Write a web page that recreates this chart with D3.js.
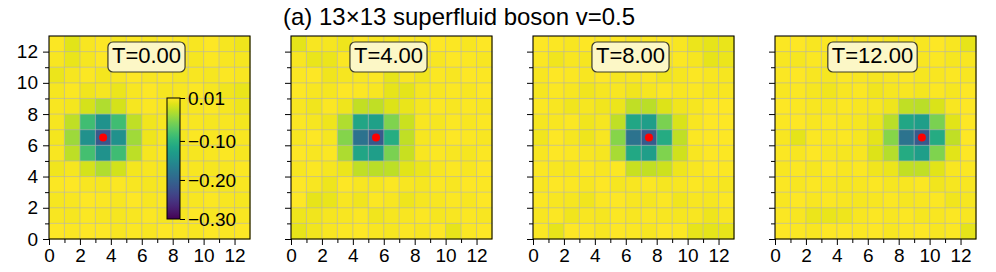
<!DOCTYPE html>
<html>
<head>
<meta charset="utf-8">
<script src="https://cdn.jsdelivr.net/npm/d3@7"></script>
<style>
  body { margin: 0; background: #fff; }
  svg text { font-family: "Liberation Sans", Arial, Helvetica, sans-serif; fill: #000; }
</style>
</head>
<body>
<div id="chart"></div>
<script>
// panel labels and the red source marker of each panel
var times = ["0.00", "4.00", "8.00", "12.00"];
var sourceX = [3.5, 5.5, 7.5, 9.5];
var sourceY = 6.5;
var cbTicks = [0.01, -0.10, -0.20, -0.30];
var colorDomain = [-0.30, 0.01];

// 13x13 grids, rows listed from y=12 (top) down to y=0, columns x=0..12
var gridT0 = [
  [0.008,-0.004,0.007,0.009,0.006,0.008,0.007,0.009,0.008,0.007,0.009,0.006,0.002],
  [0.007,0.000,0.006,0.010,0.007,0.006,0.008,0.007,0.009,0.006,0.008,0.007,0.006],
  [0.001,0.006,0.008,0.005,0.007,0.010,0.007,0.008,0.006,0.007,0.006,0.008,0.007],
  [0.006,0.008,0.003,0.006,0.001,0.007,0.009,0.006,0.007,0.008,0.006,0.003,0.000],
  [0.007,0.005,-0.010,-0.027,-0.010,0.006,0.008,0.007,0.006,0.007,0.008,0.006,0.002],
  [0.006,-0.020,-0.085,-0.143,-0.085,-0.020,0.003,0.006,0.008,0.007,0.006,0.007,0.005],
  [0.005,-0.036,-0.145,-0.215,-0.145,-0.034,0.002,0.007,0.006,0.008,0.007,0.006,0.007],
  [0.007,-0.021,-0.083,-0.142,-0.086,-0.021,0.006,0.008,0.007,0.006,0.007,0.008,0.006],
  [0.003,0.006,-0.010,-0.027,-0.011,0.004,0.007,0.006,0.008,0.007,0.006,0.007,0.008],
  [0.008,0.010,0.007,0.006,0.008,0.007,0.006,0.007,0.008,0.006,0.007,0.006,0.007],
  [0.006,0.007,0.009,0.008,0.007,0.009,0.007,0.008,0.006,0.007,0.008,0.007,0.006],
  [0.007,0.006,0.008,0.007,0.006,0.007,0.008,0.006,0.007,0.009,0.007,0.008,0.007],
  [0.009,0.008,0.010,0.010,0.007,0.008,0.007,0.009,0.008,0.007,0.010,0.008,0.009]
];
var gridT4 = [
  [-0.003,0.007,0.006,0.002,0.010,0.007,0.006,0.008,0.007,0.009,0.008,0.007,0.010],
  [0.007,0.000,0.001,0.008,0.003,0.009,0.007,0.006,0.008,0.007,0.009,0.008,0.007],
  [0.008,0.010,0.003,0.006,0.007,0.008,-0.001,0.007,0.003,0.008,0.007,0.009,0.008],
  [0.009,0.007,0.006,0.010,0.008,0.007,-0.001,-0.003,0.006,0.007,0.008,0.007,0.009],
  [0.007,0.003,0.008,0.002,-0.018,-0.020,-0.006,0.000,0.006,0.008,0.007,0.008,0.007],
  [0.008,0.006,0.002,-0.027,-0.118,-0.125,-0.050,-0.015,0.007,0.006,0.008,0.007,0.008],
  [0.007,0.010,0.006,-0.048,-0.183,-0.213,-0.108,-0.020,0.006,0.007,0.009,0.008,0.007],
  [0.009,0.007,0.008,-0.028,-0.118,-0.128,-0.052,-0.016,0.007,0.008,0.007,0.006,0.008],
  [0.007,0.008,0.006,0.001,-0.020,-0.022,-0.021,-0.004,0.001,0.007,0.008,0.007,0.009],
  [0.010,0.007,0.002,0.009,0.007,0.006,0.008,0.007,0.006,0.008,0.007,0.009,0.008],
  [0.010,-0.001,0.000,0.007,0.003,0.008,0.007,0.002,0.006,0.007,0.008,0.007,0.009],
  [0.002,0.003,0.006,0.007,0.008,0.003,0.006,0.007,0.008,0.006,0.007,0.008,0.007],
  [-0.002,0.003,0.007,0.008,0.009,0.007,0.006,0.008,0.007,0.009,-0.001,0.008,0.009]
];
var gridT8 = [
  [0.009,0.008,0.007,0.009,0.008,0.010,0.007,0.008,0.009,0.007,0.001,-0.001,0.000],
  [0.008,0.003,0.007,0.006,0.002,0.007,0.008,0.007,0.006,0.008,0.006,-0.001,0.001],
  [0.007,0.009,0.008,0.007,0.009,0.006,0.007,0.008,0.003,0.006,0.008,0.007,0.006],
  [0.006,0.008,0.007,0.003,0.006,0.007,0.003,0.006,0.008,0.007,0.008,0.006,0.007],
  [0.008,0.007,0.003,0.006,0.003,0.001,-0.020,-0.022,-0.006,0.003,0.006,0.009,0.010],
  [0.006,0.007,0.008,0.003,0.006,-0.020,-0.116,-0.128,-0.052,-0.008,0.007,0.010,0.009],
  [0.003,0.009,0.006,0.002,0.007,-0.046,-0.182,-0.212,-0.110,-0.020,0.008,0.010,0.009],
  [0.007,0.010,0.008,0.007,0.006,-0.030,-0.114,-0.128,-0.050,-0.012,0.007,0.010,0.008],
  [0.008,0.007,0.006,0.008,0.007,0.008,-0.016,-0.018,-0.014,0.002,0.007,0.009,0.008],
  [0.007,0.009,0.008,0.007,0.009,0.006,0.007,0.008,0.006,0.007,0.008,0.007,0.006],
  [0.008,0.007,0.006,0.003,0.008,0.009,0.007,0.006,0.008,0.003,0.007,0.006,0.008],
  [0.007,0.008,0.003,0.007,0.006,0.008,0.007,0.008,0.007,0.006,0.007,0.002,0.007],
  [0.008,-0.002,0.009,0.008,0.007,0.009,0.008,0.007,0.009,0.008,-0.001,-0.003,-0.002]
];
var gridT12 = [
  [0.008,0.010,0.007,0.008,0.009,0.007,0.008,0.006,0.008,0.007,0.009,0.007,-0.001],
  [0.007,0.006,0.008,0.007,0.006,0.008,0.007,0.008,0.006,0.007,0.008,0.006,0.007],
  [0.008,0.009,0.007,0.006,0.008,0.007,0.006,0.007,0.008,0.006,0.007,0.008,0.007],
  [0.007,0.008,0.006,0.003,0.007,0.008,0.003,0.006,0.007,0.004,0.008,0.006,0.009],
  [0.009,0.008,0.007,0.006,0.008,0.007,0.006,0.002,-0.020,-0.022,-0.008,0.007,0.010],
  [0.008,0.009,0.007,0.008,0.007,0.006,0.001,-0.022,-0.116,-0.128,-0.052,-0.004,0.010],
  [0.007,-0.003,0.008,0.007,0.008,0.006,-0.003,-0.046,-0.182,-0.212,-0.110,-0.020,0.010],
  [0.008,0.007,0.009,0.007,0.006,0.007,-0.006,-0.024,-0.110,-0.128,-0.050,-0.004,0.009],
  [0.007,0.008,0.006,0.009,0.007,0.008,0.003,0.001,-0.018,-0.020,-0.004,0.007,0.008],
  [0.008,0.007,0.008,0.007,0.006,0.007,0.008,0.006,0.007,0.008,0.003,0.006,0.007],
  [0.007,0.009,0.007,0.008,0.007,0.006,0.007,0.008,0.006,0.007,0.008,0.003,0.006],
  [0.008,0.007,0.001,0.000,0.002,0.007,0.008,0.007,0.008,0.006,0.007,0.008,0.007],
  [0.009,0.008,0.007,0.009,0.010,0.008,0.009,0.007,0.008,0.009,0.007,0.008,-0.003]
];
var grids = [gridT0, gridT4, gridT8, gridT12];

var svgWidth = 996, svgHeight = 272;
var panelLeft = [49, 291, 533, 775];
var panelTop = 36, pw = 201, ph = 203;

var svg = d3.select("#chart").append("svg")
  .attr("width", svgWidth)
  .attr("height", svgHeight);

var color = d3.scaleSequential(d3.interpolateViridis).domain(colorDomain);

// title
svg.append("text")
  .attr("x", 459)
  .attr("y", 25)
  .attr("text-anchor", "middle")
  .attr("font-size", 24)
  .attr("textLength", 352)
  .attr("lengthAdjust", "spacingAndGlyphs")
  .text("(a) 13×13 superfluid boson v=0.5");

var x = d3.scaleLinear().domain([0, 13]).range([0, pw]);
var y = d3.scaleLinear().domain([0, 13]).range([ph, 0]);
var tickVals = d3.range(0, 13);

panelLeft.forEach(function(left, p) {
  var g = svg.append("g").attr("transform", `translate(${left}, ${panelTop})`);

  var cells = [];
  grids[p].forEach(function(row, i) {
    row.forEach(function(v, j) {
      cells.push({col: j, row: 12 - i, v: v});
    });
  });

  g.selectAll("rect.cell")
    .data(cells)
    .enter()
    .append("rect")
    .attr("class", "cell")
    .attr("x", d => x(d.col))
    .attr("y", d => y(d.row + 1))
    .attr("width", x(1) - x(0) + 0.4)
    .attr("height", y(0) - y(1) + 0.4)
    .attr("fill", d => color(d.v));

  // light grid over the cells
  var inner = d3.range(1, 13);
  g.selectAll("line.vg").data(inner).enter().append("line")
    .attr("x1", d => x(d)).attr("x2", d => x(d))
    .attr("y1", 0).attr("y2", ph)
    .attr("stroke", "#b0b0b0").attr("stroke-opacity", 0.6).attr("stroke-width", 1);
  g.selectAll("line.hg").data(inner).enter().append("line")
    .attr("y1", d => y(d)).attr("y2", d => y(d))
    .attr("x1", 0).attr("x2", pw)
    .attr("stroke", "#b0b0b0").attr("stroke-opacity", 0.6).attr("stroke-width", 1);

  // axes
  var xAxis = g.append("g")
    .attr("transform", `translate(0, ${ph})`)
    .call(d3.axisBottom(x).tickValues(tickVals).tickSize(6).tickPadding(4)
      .tickFormat(d => d % 2 === 0 ? d : ""));
  var yAxis = g.append("g")
    .call(d3.axisLeft(y).tickValues(tickVals).tickSize(6).tickPadding(5)
      .tickFormat(d => (p === 0 && d % 2 === 0) ? d : ""));
  [xAxis, yAxis].forEach(function(ax) {
    ax.select(".domain").remove();
    ax.selectAll("text").attr("font-size", 19).attr("fill", "#000");
    ax.selectAll("line").attr("stroke", "#000");
  });
  xAxis.selectAll(".tick line").attr("y2", d => d % 2 === 0 ? 6 : 4);
  yAxis.selectAll(".tick line").attr("x2", d => d % 2 === 0 ? -6 : -4);

  // frame
  g.append("rect")
    .attr("width", pw).attr("height", ph)
    .attr("fill", "none").attr("stroke", "#000").attr("stroke-width", 1.1);

  // source marker
  g.append("circle")
    .attr("cx", x(sourceX[p]))
    .attr("cy", y(sourceY))
    .attr("r", 4)
    .attr("fill", "red");

  // time label box
  var lab = g.append("g");
  var txt = lab.append("text")
    .attr("x", pw / 2 - 3)
    .attr("y", 27)
    .attr("text-anchor", "middle")
    .attr("font-size", 22)
    .text("T=" + times[p]);
  var bb = txt.node().getBBox();
  lab.insert("rect", "text")
    .attr("x", bb.x - 4)
    .attr("y", 6)
    .attr("width", bb.width + 8)
    .attr("height", 30)
    .attr("rx", 5)
    .attr("fill", "#fcf7c6")
    .attr("stroke", "#3a3a2a")
    .attr("stroke-width", 1.2);

  // colorbar inside the first panel
  if (p === 0) {
    var cbX = 118, cbW = 13;
    var cbScale = d3.scaleLinear().domain(colorDomain).range([183, 62]);
    var defs = svg.append("defs");
    var grad = defs.append("linearGradient")
      .attr("id", "viridisGrad")
      .attr("x1", "0%").attr("y1", "100%").attr("x2", "0%").attr("y2", "0%");
    d3.range(0, 1.001, 0.05).forEach(function(t) {
      grad.append("stop")
        .attr("offset", (t * 100) + "%")
        .attr("stop-color", d3.interpolateViridis(t));
    });
    g.append("rect")
      .attr("x", cbX)
      .attr("y", cbScale(colorDomain[1]))
      .attr("width", cbW)
      .attr("height", cbScale(colorDomain[0]) - cbScale(colorDomain[1]))
      .attr("fill", "url(#viridisGrad)")
      .attr("stroke", "#000")
      .attr("stroke-width", 1);
    var cbAxis = g.append("g")
      .attr("transform", `translate(${cbX + cbW}, 0)`)
      .call(d3.axisRight(cbScale).tickValues(cbTicks).tickSize(5).tickPadding(3)
        .tickFormat(d3.format(".2f")));
    cbAxis.select(".domain").remove();
    cbAxis.selectAll("text").attr("font-size", 19).attr("fill", "#000");
    cbAxis.selectAll("line").attr("stroke", "#000");
  }
});
</script>
</body>
</html>
